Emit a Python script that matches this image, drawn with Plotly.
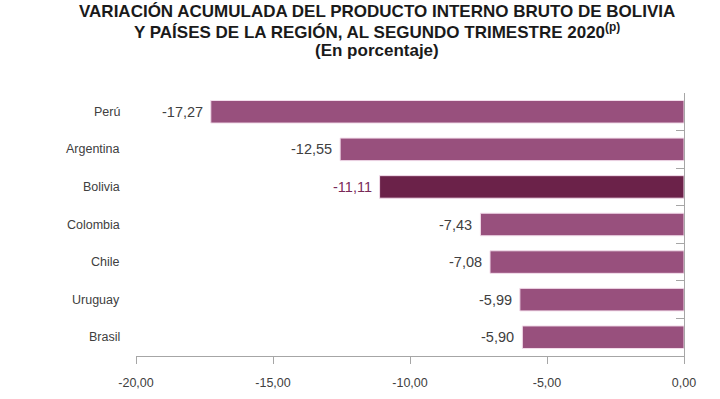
import plotly.graph_objects as go

countries = ["Perú", "Argentina", "Bolivia", "Colombia", "Chile", "Uruguay", "Brasil"]
values = [-17.27, -12.55, -11.11, -7.43, -7.08, -5.99, -5.90]
x_ticks = [-20, -15, -10, -5, 0]
x_ticktext = ["-20,00", "-15,00", "-10,00", "-5,00", "0,00"]
highlight = "Bolivia"

BASE = "#98507d"
HIGH = "#6b2249"
FONT = "Liberation Sans, Arial, sans-serif"

W, H = 720, 399
ML, MR, MT, MB = 136, 36, 93, 43
PW, PH = W - ML - MR, H - MT - MB

def fmt(v):
    return f"{v:.2f}".replace(".", ",")

colors = [HIGH if c == highlight else BASE for c in countries]

fig = go.Figure()
fig.add_trace(go.Bar(
    y=countries, x=values, orientation="h",
    marker=dict(color=colors, line=dict(color="#f2dcea", width=1)),
    width=0.6, hoverinfo="skip",
))

annotations = []
for c, v in zip(countries, values):
    annotations.append(dict(
        x=v, y=c, xref="x", yref="y", text=fmt(v), showarrow=False,
        xanchor="right", xshift=-6,
        font=dict(family=FONT, size=14.5, color="#7a2a58" if c == highlight else "#404040"),
    ))
    annotations.append(dict(
        x=0, y=c, xref="paper", yref="y", text=c, showarrow=False,
        xanchor="right", xshift=-14,
        font=dict(family=FONT, size=12.5, color="#404040"),
    ))

title_lines = [
    "<b>VARIACIÓN ACUMULADA DEL PRODUCTO INTERNO BRUTO DE BOLIVIA</b>",
    "<b>Y PAÍSES DE LA REGIÓN, AL SEGUNDO TRIMESTRE 2020<sup>(p)</sup></b>",
    "<b>(En porcentaje)</b>",
]
title_px_y = [12, 31, 50]
for t, py in zip(title_lines, title_px_y):
    annotations.append(dict(
        x=(377 - ML) / PW, y=(H - MB - py) / PH, xref="paper", yref="paper",
        text=t, showarrow=False, xanchor="center", yanchor="middle",
        font=dict(family=FONT, size=17, color="#1a1a1a"),
    ))

fig.update_layout(
    width=W, height=H,
    margin=dict(l=ML, r=MR, t=MT, b=MB, autoexpand=False),
    paper_bgcolor="white", plot_bgcolor="white",
    showlegend=False,
    annotations=annotations,
    xaxis=dict(
        range=[-20, 0], tickvals=x_ticks, ticktext=x_ticktext,
        showgrid=False, zeroline=False, automargin=False,
        showline=True, linecolor="#a6a6a6", linewidth=1,
        ticks="outside", ticklen=7, tickcolor="#a6a6a6",
        tickfont=dict(family=FONT, size=12.5, color="#404040"),
        ticklabelstandoff=8,
    ),
    yaxis=dict(
        categoryorder="array", categoryarray=countries[::-1],
        range=[-0.5, len(countries) - 0.5], autorange=False,
        side="right", showticklabels=False, automargin=False,
        tickson="boundaries", ticks="inside", ticklen=8, tickcolor="#a6a6a6",
        showline=True, linecolor="#a6a6a6", linewidth=1,
        showgrid=False, zeroline=False,
    ),
)
fig.write_html("out.html", config={"displayModeBar": False},
               post_script="document.body.style.margin='0';")
